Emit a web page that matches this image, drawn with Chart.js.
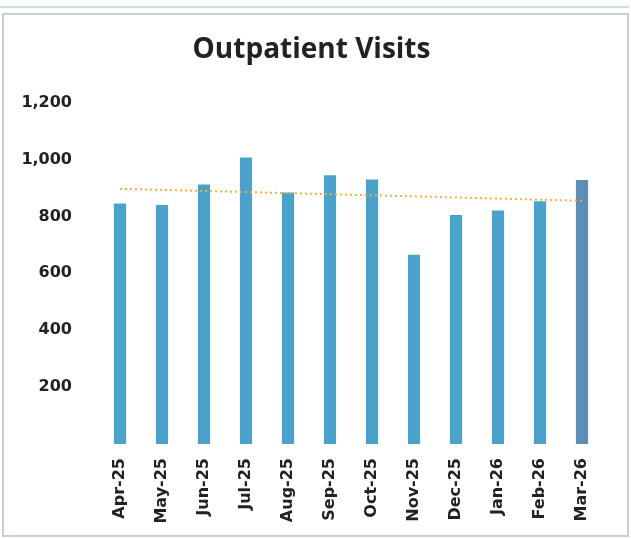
<!DOCTYPE html>
<html>
<head>
<meta charset="utf-8">
<script src="https://cdn.jsdelivr.net/npm/chart.js@4/dist/chart.umd.min.js"></script>
<style>
    body { margin: 0; background: #fff; }
    #wrap { position: relative; width: 631px; height: 538px; }
    #frame-top { position: absolute; left: 0; top: 2px; width: 629px; height: 4px; border-bottom: 2px solid #c9dfe0; }
    #frame { position: absolute; left: 2px; top: 13px; width: 623px; height: 520px; border: 2px solid #c8cfcf; pointer-events: none; }
</style>
</head>
<body>
<div id="wrap">
    <canvas id="chart" width="631" height="538"></canvas>
    <div id="frame-top"></div>
    <div id="frame"></div>
</div>
<script>
// Outpatient visits per month
const months = ['Apr-25', 'May-25', 'Jun-25', 'Jul-25', 'Aug-25', 'Sep-25',
                'Oct-25', 'Nov-25', 'Dec-25', 'Jan-26', 'Feb-26', 'Mar-26'];
const visits = [845, 840, 912, 1007, 884, 945, 930, 665, 805, 821, 853, 928];
// dotted trend line at its two ends
const trend = [897, null, null, null, null, null, null, null, null, null, null, 855];
const yTicks = [200, 400, 600, 800, 1000, 1200];

const barColors = months.map((m, i) => i === months.length - 1 ? '#5b8fb9' : '#4aa2cb');
const axisFont = { family: 'DejaVu Sans', size: 16, weight: 'bold' };

new Chart(document.getElementById('chart'), {
    data: {
        labels: months,
        datasets: [
            {
                type: 'line',
                data: trend,
                borderColor: '#f2b134',
                borderWidth: 2,
                borderDash: [2, 3],
                pointRadius: 0,
                spanGaps: true,
                order: 0
            },
            {
                type: 'bar',
                data: visits,
                backgroundColor: barColors,
                barPercentage: 0.29,
                categoryPercentage: 1,
                order: 1
            }
        ]
    },
    options: {
        responsive: false,
        animation: false,
        layout: {
            padding: { left: 20, right: 28, top: 33, bottom: 0 }
        },
        plugins: {
            legend: { display: false },
            tooltip: { enabled: false },
            title: {
                display: true,
                text: 'Outpatient Visits',
                color: '#222',
                font: { family: 'Open Sans', size: 28, weight: 'bold' },
                padding: { top: 0, bottom: 36 }
            }
        },
        scales: {
            x: {
                grid: { display: false },
                border: { display: false },
                afterFit: (axis) => { axis.height = 94; },
                ticks: {
                    color: '#222',
                    font: axisFont,
                    maxRotation: 90,
                    minRotation: 90,
                    padding: 6
                }
            },
            y: {
                min: 0,
                max: 1200,
                grid: { display: false },
                border: { display: false },
                afterFit: (axis) => { axis.width = 79; },
                afterBuildTicks: (axis) => {
                    axis.ticks = [0, ...yTicks].map(v => ({ value: v }));
                },
                ticks: {
                    color: '#222',
                    font: axisFont,
                    padding: 19,
                    callback: (v) => v === 0 ? '' : v.toLocaleString('en-US')
                }
            }
        }
    }
});
</script>
</body>
</html>
